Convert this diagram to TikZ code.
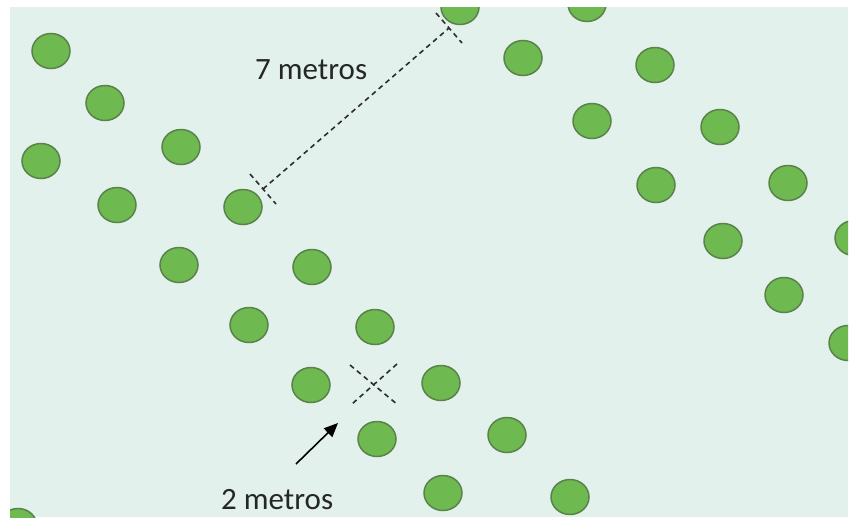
\documentclass[tikz,border=0pt]{standalone}
\usepackage{fontspec}
\setmainfont{Carlito}
\usepackage{tikz}
\usetikzlibrary{shapes.geometric, arrows.meta, positioning}
\definecolor{bgmint}{RGB}{226,241,235}
\definecolor{leafgreen}{RGB}{110,186,80}
\definecolor{leafedge}{RGB}{90,130,75}
\definecolor{dimgrey}{RGB}{45,45,45}
\tikzset{
  plant/.style={ellipse, draw=leafedge, fill=leafgreen,
    minimum width=38pt, minimum height=35pt, inner sep=0pt, line width=1.5pt},
  dimline/.style={dash pattern=on 5pt off 4pt, line width=1.6pt, color=dimgrey},
  metrotext/.style={font=\fontsize{31}{31}\selectfont, text=black!85, inner sep=0pt},
  pointer/.style={-{Triangle[length=14pt,width=12pt]}, line width=1.6pt, color=black}
}

\begin{document}
\begin{tikzpicture}[x=1pt, y=-1pt]
  \useasboundingbox (0,0) rectangle (854,517);
  % Field
  \fill[bgmint] (10,7) rectangle (848,517);

  \begin{scope}
    \clip (10,7) rectangle (848,517);
    % Left double row
    \node[plant] (t1) at (51,51) {};
    \node[plant] (t2) at (105,103) {};
    \node[plant] (t3) at (41,161) {};
    \node[plant] (t4) at (181,147) {};
    \node[plant] (t5) at (117,205) {};
    \node[plant] (t6) at (243,207) {};
    \node[plant] (t7) at (179,265) {};
    \node[plant] (t8) at (312,267) {};
    \node[plant] (t9) at (249,325) {};
    \node[plant] (t10) at (375,327) {};
    \node[plant] (t11) at (311,385) {};
    \node[plant] (t12) at (441,383) {};
    \node[plant] (t13) at (377,439) {};
    \node[plant] (t14) at (507,435) {};
    \node[plant] (t15) at (443,493) {};
    \node[plant] (t16) at (570,497) {};
    \node[plant] (t29) at (18,526) {};
    % Right double row
    \node[plant] (t17) at (460,7) {};
    \node[plant] (t18) at (587,4) {};
    \node[plant] (t19) at (523,58) {};
    \node[plant] (t20) at (655,65) {};
    \node[plant] (t21) at (592,121) {};
    \node[plant] (t22) at (720,127) {};
    \node[plant] (t23) at (656,185) {};
    \node[plant] (t24) at (788,183) {};
    \node[plant] (t25) at (723,241) {};
    \node[plant] (t26) at (854,238) {};
    \node[plant] (t27) at (784,295) {};
    \node[plant] (t28) at (848,343) {};
  \end{scope}

  % 7 m between rows
  \coordinate (d7a) at (263,189);
  \coordinate (d7b) at (449,28);
  \coordinate (d7a1) at (250,174);
  \coordinate (d7a2) at (276,204);
  \coordinate (d7b1) at (436,13);
  \coordinate (d7b2) at (462,43);
  \draw[dimline] (d7a) -- (d7b);
  \draw[dimline] (d7a1) -- (d7a2);
  \draw[dimline] (d7b1) -- (d7b2);
  \node[metrotext, anchor=base west] (m7) at (255,79) {7 metros};

  % 2 m cross
  \coordinate (xa1) at (350,365);
  \coordinate (xa2) at (398,405);
  \coordinate (xb1) at (397,364);
  \coordinate (xb2) at (352,404);
  \draw[dimline] (xa1) -- (xa2);
  \draw[dimline] (xb1) -- (xb2);
  \node[metrotext, anchor=base west] (m2) at (221,509) {2 metros};
  \coordinate (ptail) at (296,464);
  \coordinate (phead) at (338,423);
  \draw[pointer] (ptail) -- (phead);
\end{tikzpicture}
\end{document}
